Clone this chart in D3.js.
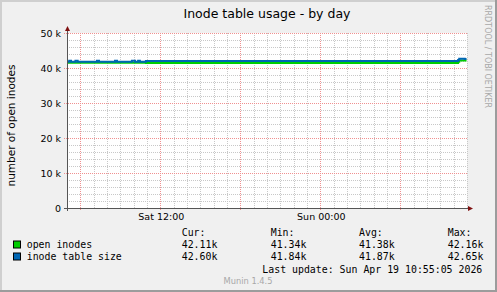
<!DOCTYPE html>
<html>
<head>
<meta charset="utf-8">
<script src="https://cdn.jsdelivr.net/npm/d3@7"></script>
<style>
body { margin: 0; background: #f0f0f0; }
text { font-family: "DejaVu Sans", sans-serif; }
.mono { font-family: "DejaVu Sans Mono", monospace; }
.grid { shape-rendering: crispEdges; }
</style>
</head>
<body>
<div class="chart"></div>
<script>
// values (step changes, in thousands)
var tableTimes = ["2026-04-18T05:00", "2026-04-18T05:10", "2026-04-18T05:18", "2026-04-18T05:38", "2026-04-18T05:48",
  "2026-04-18T07:15", "2026-04-18T07:24", "2026-04-18T08:36", "2026-04-18T08:45", "2026-04-18T09:52",
  "2026-04-18T10:06", "2026-04-18T10:20", "2026-04-18T10:28", "2026-04-18T10:55", "2026-04-19T10:20",
  "2026-04-19T10:25", "2026-04-19T10:50", "2026-04-19T10:58"]
var tableValues = [41.76, 42.05, 41.76, 42.05, 41.76, 42.05, 41.76, 42.05, 41.76, 42.05,
  41.76, 42.05, 41.76, 41.98, 42.30, 42.65, 42.60, 42.60]

var openTimes = ["2026-04-18T05:00", "2026-04-18T10:55", "2026-04-19T10:20", "2026-04-19T10:25", "2026-04-19T10:50", "2026-04-19T10:58"]
var openValues = [41.50, 41.45, 41.80, 42.16, 42.11, 42.11]

var yTicks = [0, 10, 20, 30, 40, 50]
var yTickLabels = ["0", "10 k", "20 k", "30 k", "40 k", "50 k"]
var xLabelTimes = ["2026-04-18T12:00", "2026-04-19T00:00"]
var xLabels = ["Sat 12:00", "Sun 00:00"]

var legendNames = ["open inodes", "inode table size"]
var legendColors = ["#00cc00", "#0066b3"]
var statCur = ["42.11k", "42.60k"]
var statMin = ["41.34k", "41.84k"]
var statAvg = ["41.38k", "41.87k"]
var statMax = ["42.16k", "42.65k"]

var parse = d3.timeParse("%Y-%m-%dT%H:%M")

var W = 497, H = 292
var pL = 67, pR = 467, pT = 33, pB = 208

var svg = d3.select('.chart').append('svg')
  .attr('width', W).attr('height', H)

// background + 3d frame
svg.append('rect').attr('width', W).attr('height', H).attr('fill', '#f0f0f0')
svg.append('rect').attr('x', 0).attr('y', 0).attr('width', W).attr('height', 2).attr('fill', '#cfcfcf')
svg.append('rect').attr('x', 0).attr('y', 0).attr('width', 2).attr('height', H).attr('fill', '#cfcfcf')
svg.append('rect').attr('x', 0).attr('y', H - 2).attr('width', W).attr('height', 2).attr('fill', '#9c9c9c')
svg.append('rect').attr('x', W - 2).attr('y', 0).attr('width', 2).attr('height', H).attr('fill', '#9c9c9c')

var x = d3.scaleTime()
  .domain([parse("2026-04-18T05:00"), parse("2026-04-19T11:00")])
  .range([pL, pR])
var y = d3.scaleLinear().domain([0, 50]).range([pB, pT])

svg.append('rect').attr('x', pL).attr('y', pT)
  .attr('width', pR - pL).attr('height', pB - pT).attr('fill', '#ffffff')

// minor grid
var hours = x.ticks(d3.timeHour.every(1)).filter(function(d){ return d.getHours() % 6 != 0 })
svg.selectAll('.vmin').data(hours).enter().append('line').attr('class', 'grid')
  .attr('x1', function(d){ return Math.round(x(d)) + 0.5 }).attr('x2', function(d){ return Math.round(x(d)) + 0.5 })
  .attr('y1', pT).attr('y2', pB)
  .attr('stroke', '#c8c8c8').attr('stroke-dasharray', '1,1')
var minorY = d3.range(0, 51, 2).filter(function(v){ return v % 10 != 0 })
svg.selectAll('.hmin').data(minorY).enter().append('line').attr('class', 'grid')
  .attr('y1', function(d){ return Math.round(y(d)) + 0.5 }).attr('y2', function(d){ return Math.round(y(d)) + 0.5 })
  .attr('x1', pL).attr('x2', pR)
  .attr('stroke', '#c8c8c8').attr('stroke-dasharray', '1,1')

// major grid
var sixes = x.ticks(d3.timeHour.every(6))
svg.selectAll('.vmaj').data(sixes).enter().append('line').attr('class', 'grid')
  .attr('x1', function(d){ return Math.round(x(d)) + 0.5 }).attr('x2', function(d){ return Math.round(x(d)) + 0.5 })
  .attr('y1', pT).attr('y2', pB + 3)
  .attr('stroke', '#f09090').attr('stroke-dasharray', '1,1')
svg.selectAll('.hmaj').data(yTicks.slice(1)).enter().append('line').attr('class', 'grid')
  .attr('y1', function(d){ return Math.round(y(d)) + 0.5 }).attr('y2', function(d){ return Math.round(y(d)) + 0.5 })
  .attr('x1', pL - 3).attr('x2', pR)
  .attr('stroke', '#f09090').attr('stroke-dasharray', '1,1')

// data lines
function series(times, values){
  return times.map(function(t, i){ return {t: parse(t), v: values[i]} })
}
var line = d3.line().x(function(d){ return x(d.t) }).y(function(d){ return y(d.v) }).curve(d3.curveStepAfter)
svg.append('path').datum(series(openTimes, openValues)).attr('d', line)
  .attr('fill', 'none').attr('stroke', legendColors[0]).attr('stroke-width', 2)
svg.append('path').datum(series(tableTimes, tableValues)).attr('d', line)
  .attr('fill', 'none').attr('stroke', legendColors[1]).attr('stroke-width', 2)

// axes
svg.append('line').attr('class', 'grid').attr('x1', pL - 3).attr('x2', pR + 2).attr('y1', pB + 0.5).attr('y2', pB + 0.5)
  .attr('stroke', '#555555')
svg.append('line').attr('class', 'grid').attr('x1', pL + 0.5).attr('x2', pL + 0.5).attr('y1', pB + 3).attr('y2', pT - 3)
  .attr('stroke', '#555555')
svg.append('path').attr('d', 'M' + (pR + 6) + ',' + (pB + 0.5) + 'L' + (pR + 1) + ',' + (pB - 2) + 'L' + (pR + 1) + ',' + (pB + 3) + 'Z')
  .attr('fill', '#7f1010')
svg.append('path').attr('d', 'M' + (pL + 0.5) + ',' + (pT - 7) + 'L' + (pL - 2) + ',' + (pT - 2) + 'L' + (pL + 3) + ',' + (pT - 2) + 'Z')
  .attr('fill', '#7f1010')

svg.selectAll('.ylab').data(yTicks).enter().append('text')
  .attr('x', 61).attr('y', function(d){ return y(d) + 3.5 })
  .attr('text-anchor', 'end').attr('font-size', 9.5).attr('fill', '#000')
  .text(function(d, i){ return yTickLabels[i] })

svg.selectAll('.xlab').data(xLabelTimes).enter().append('text')
  .attr('x', function(d){ return x(parse(d)) + 1 }).attr('y', 220)
  .attr('text-anchor', 'middle').attr('font-size', 9.5).attr('fill', '#000')
  .text(function(d, i){ return xLabels[i] })

// title and side texts
svg.append('text').attr('x', 267).attr('y', 18).attr('text-anchor', 'middle')
  .attr('font-size', 12.5).text('Inode table usage - by day')
svg.append('text').attr('transform', 'translate(15,' + ((pT + pB) / 2 + 5) + ') rotate(-90)')
  .attr('text-anchor', 'middle').attr('font-size', 10.5).text('number of open inodes')
svg.append('text').attr('transform', 'translate(485,5) rotate(90)')
  .attr('text-anchor', 'start').attr('font-size', 8).attr('fill', '#a8a8a8')
  .text('RRDTOOL / TOBI OETIKER')

// legend
var fs = 9.9
var rows = [247.5, 259.5]
svg.append('text').attr('class', 'mono').attr('x', 181.7).attr('y', 235.5).attr('font-size', fs).text('Cur:')
svg.append('text').attr('class', 'mono').attr('x', 270.7).attr('y', 235.5).attr('font-size', fs).text('Min:')
svg.append('text').attr('class', 'mono').attr('x', 359).attr('y', 235.5).attr('font-size', fs).text('Avg:')
svg.append('text').attr('class', 'mono').attr('x', 447.7).attr('y', 235.5).attr('font-size', fs).text('Max:')

legendNames.forEach(function(name, i){
  svg.append('rect').attr('x', 13.5).attr('y', rows[i] - 6.5).attr('width', 7).attr('height', 7)
    .attr('fill', legendColors[i]).attr('stroke', '#000').attr('stroke-width', 1)
  svg.append('text').attr('class', 'mono').attr('x', 26.7).attr('y', rows[i]).attr('font-size', fs).text(name)
  svg.append('text').attr('class', 'mono').attr('x', 181.7).attr('y', rows[i]).attr('font-size', fs).text(statCur[i])
  svg.append('text').attr('class', 'mono').attr('x', 270.7).attr('y', rows[i]).attr('font-size', fs).text(statMin[i])
  svg.append('text').attr('class', 'mono').attr('x', 359).attr('y', rows[i]).attr('font-size', fs).text(statAvg[i])
  svg.append('text').attr('class', 'mono').attr('x', 447.7).attr('y', rows[i]).attr('font-size', fs).text(statMax[i])
})

svg.append('text').attr('class', 'mono').attr('x', 482.3).attr('y', 272.5).attr('text-anchor', 'end')
  .attr('font-size', fs).text('Last update: Sun Apr 19 10:55:05 2026')

svg.append('text').attr('x', 248).attr('y', 283.5).attr('text-anchor', 'middle')
  .attr('font-size', 8.3).attr('fill', '#a8a8a8').text('Munin 1.4.5')
</script>
</body>
</html>
